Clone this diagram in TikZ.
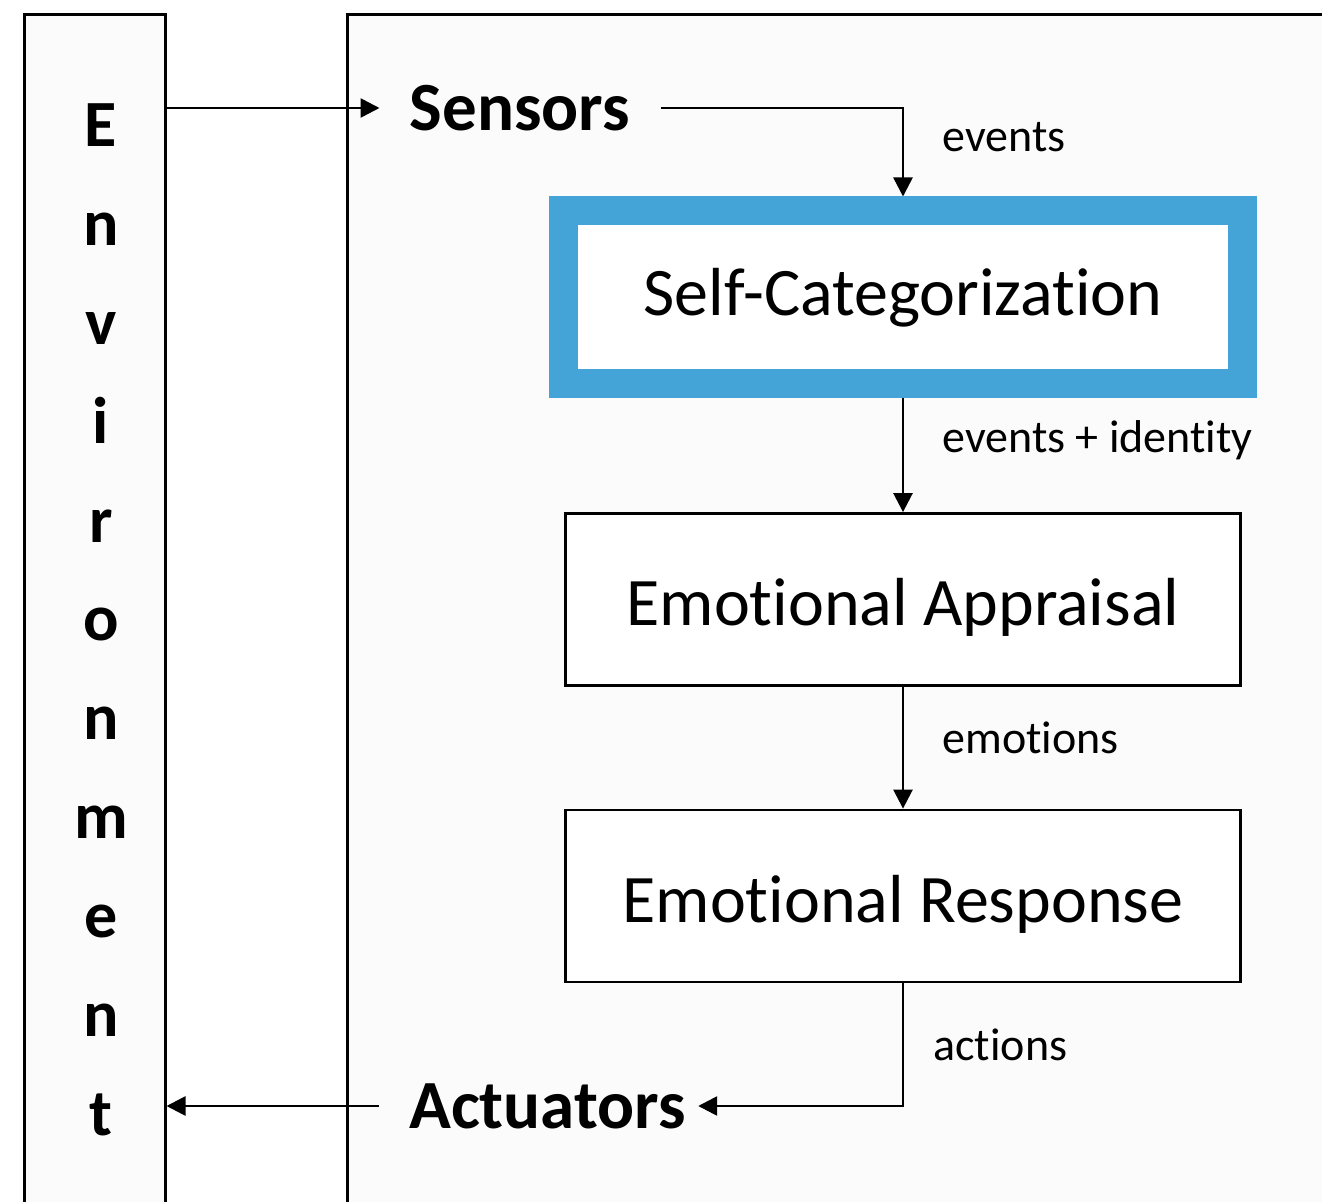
\documentclass[tikz,border=0pt]{standalone}
\usepackage{fontspec}
\setmainfont{Carlito}[Ligatures={NoCommon,NoContextual}]
\usetikzlibrary{arrows.meta}
\definecolor{scblue}{RGB}{68,164,216}
\definecolor{panel}{RGB}{251,251,251}
\begin{document}
\begin{tikzpicture}[x=0.5pt,y=-0.5pt,
 frame/.style={draw=black, line width=1.5pt, fill=panel, rectangle, inner sep=0pt},
 blk/.style={draw=black, line width=1.4pt, fill=white, rectangle, minimum width=337.5pt, minimum height=86pt, inner sep=0pt, text height=26pt, text depth=0pt, font=\fontsize{34}{40}\selectfont},
 scbox/.style={draw=scblue, line width=14.5pt, fill=white, rectangle, minimum width=339.5pt, minimum height=86.5pt, inner sep=0pt, font=\fontsize{34}{40}\selectfont},
 big/.style={font=\fontsize{34.5}{40}\selectfont\bfseries, inner sep=0pt},
 lbl/.style={font=\fontsize{23}{28}\selectfont, inner sep=0pt, anchor=base west},
 letter/.style={font=\fontsize{33}{40}\selectfont\bfseries, inner sep=0pt, anchor=base},
 arr/.style={line width=1.3pt, -{Triangle[length=9.5pt,width=9.5pt]}}]
\useasboundingbox (0,0) rectangle (1322,1202);
\fill[white] (0,0) rectangle (1322,1202);
\node[frame, minimum width=70.5pt, minimum height=610pt] (env) at (94.5,625) {};
\node[frame, minimum width=496.5pt, minimum height=610pt] (agent) at (843.5,625) {};
\foreach \ch [count=\i from 0] in {E,n,v,i,r,o,n,m,e,n,t}
  \node[letter] (L\i) at (101,147+98.8*\i) {\ch};
\node[big, inner xsep=15pt] (sens) at (520,108) {Sensors};
\node[big, inner xsep=6pt] (act) at (547.5,1106) {Actuators};
\node[scbox] (sc) at (903,297.5) {Self-Categorization};
\node[blk] (ea) at (903,599.5) {Emotional Appraisal};
\node[blk] (er) at (903,896) {Emotional Response};
\draw[arr] (env.east |- sens.west) -- (sens.west);
\draw[arr] (sens.east) -| (sc.north);
\draw[arr] (sc.south) -- (ea.north);
\draw[arr] (ea.south) -- (er.north);
\draw[arr] (er.south) |- (act.east);
\draw[arr] ([xshift=-9pt]act.west) -- (env.east |- act.west);
\node[lbl] (l1) at (942,152) {events};
\node[lbl] (l2) at (942,453) {events + identity};
\node[lbl] (l3) at (942,754) {emotions};
\node[lbl] (l4) at (933,1060) {actions};
\end{tikzpicture}
\end{document}
